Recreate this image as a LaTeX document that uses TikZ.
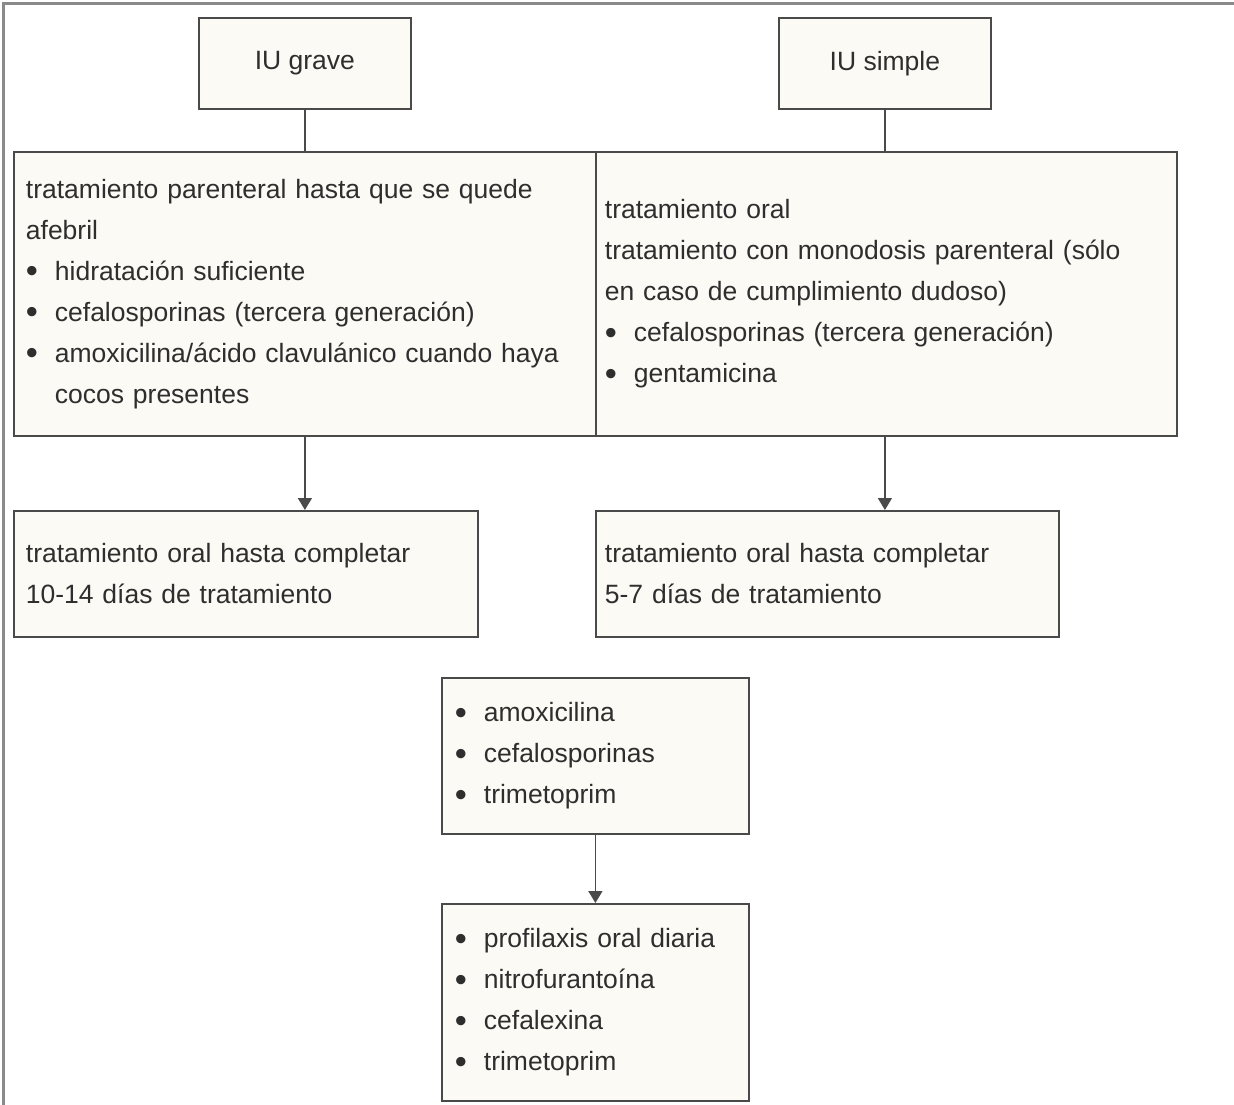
\documentclass[tikz,border=0pt]{standalone}
\usepackage{fontspec}
\usepackage{graphicx}
\setmainfont{Liberation Sans}
\usetikzlibrary{arrows.meta}
\definecolor{boxfill}{HTML}{FCFAF5}
\definecolor{boxline}{HTML}{4A4A4A}
\definecolor{txt}{HTML}{2E2E2E}
\definecolor{frame}{HTML}{8A8A8A}
\newcommand{\bul}{\makebox[29pt][l]{\raisebox{-2.6pt}{\scalebox{1.3}{\textbullet}}}}
\newcommand{\hang}{\hspace*{29pt}}
\begin{document}
\begin{tikzpicture}[x=1pt,y=-1pt,
  box/.style={draw=boxline, line width=1.8pt, fill=boxfill, anchor=north west,
    font=\fontsize{26.5pt}{41pt}\selectfont, text=txt, inner ysep=0pt},
  leftbox/.style={box, align=left, inner xsep=#1},
  conn/.style={draw=boxline, line width=1.6pt},
  arr/.style={conn, -{Triangle[width=14pt,length=12pt]}}
]
\useasboundingbox (0,0) rectangle (1234,1105);
\fill[white] (0,0) rectangle (1234,1105);
\draw[frame, line width=3pt] (3,1105) -- (3,4) -- (1234,4);

\node[box, minimum width=212pt, minimum height=91pt] (g) at (198,17) {IU grave};
\node[box, minimum width=212pt, minimum height=91pt] (s) at (778,17) {IU simple};

\node[leftbox=12pt, text width=558pt, minimum width=582pt, minimum height=284pt] (L) at (13,151)
{tratamiento parenteral hasta que se quede\\
afebril\\
\bul hidratación suficiente\\
\bul cefalosporinas (tercera generación)\\
\bul amoxicilina/ácido clavulánico cuando haya\\
\hang cocos presentes};

\node[leftbox=9pt, text width=563pt, minimum width=581pt, minimum height=284pt] (R) at (595,151)
{tratamiento oral\\
tratamiento con monodosis parenteral (sólo\\
en caso de cumplimiento dudoso)\\
\bul cefalosporinas (tercera generación)\\
\bul gentamicina};

\node[leftbox=12pt, text width=440pt, minimum width=464pt, minimum height=126pt] (L2) at (13,510)
{tratamiento oral hasta completar\\
10-14 días de tratamiento};

\node[leftbox=9pt, text width=445pt, minimum width=463pt, minimum height=126pt] (R2) at (595,510)
{tratamiento oral hasta completar\\
5-7 días de tratamiento};

\node[leftbox=13pt, text width=281pt, minimum width=307pt, minimum height=156pt] (M) at (441,677)
{\bul amoxicilina\\
\bul cefalosporinas\\
\bul trimetoprim};

\node[leftbox=13pt, text width=281pt, minimum width=307pt, minimum height=197pt] (P) at (441,903)
{\bul profilaxis oral diaria\\
\bul nitrofurantoína\\
\bul cefalexina\\
\bul trimetoprim};

\draw[conn] (g.south) -- (g.south |- L.north);
\draw[conn] (s.south) -- (s.south |- R.north);
\draw[arr] (g.south |- L.south) -- (g.south |- L2.north);
\draw[arr] (s.south |- R.south) -- (s.south |- R2.north);
\draw[arr] (M.south) -- (P.north);
\end{tikzpicture}
\end{document}
